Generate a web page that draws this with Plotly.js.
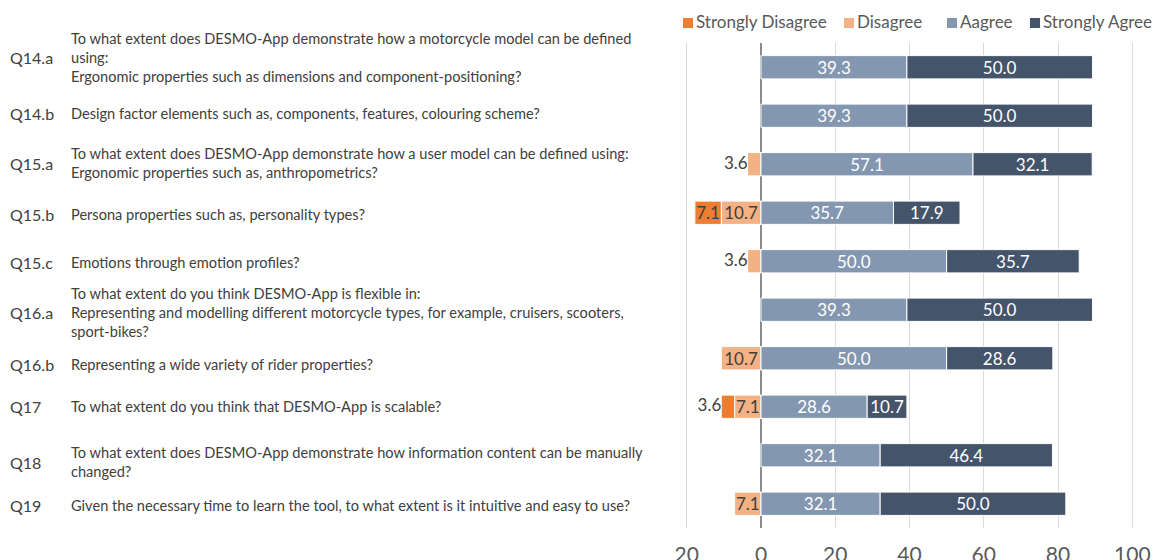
<!DOCTYPE html>
<html>
<head>
<meta charset="utf-8">
<script src="https://cdn.plot.ly/plotly-3.0.1.min.js"></script>
<style>html,body{margin:0;padding:0;background:#fff;}#chart{width:1156px;height:560px;}</style>
</head>
<body>
<div id="chart"></div>
<script>
// ---- data ----
const codes = ["Q14.a","Q14.b","Q15.a","Q15.b","Q15.c","Q16.a","Q16.b","Q17","Q18","Q19"];
const questions = [
  "To what extent does DESMO-App demonstrate how a motorcycle model can be defined<br>using:<br>Ergonomic properties such as dimensions and component-positioning?",
  "Design factor elements such as, components, features, colouring scheme?",
  "To what extent does DESMO-App demonstrate how a user model can be defined using:<br>Ergonomic properties such as, anthropometrics?",
  "Persona properties such as, personality types?",
  "Emotions through emotion profiles?",
  "To what extent do you think DESMO-App is flexible in:<br>Representing and modelling different motorcycle types, for example, cruisers, scooters,<br>sport-bikes?",
  "Representing a wide variety of rider properties?",
  "To what extent do you think that DESMO-App is scalable?",
  "To what extent does DESMO-App demonstrate how information content can be manually<br>changed?",
  "Given the necessary time to learn the tool, to what extent is it intuitive and easy to use?"
];
const seriesNames = ["Strongly Disagree","Disagree","Aagree","Strongly Agree"];
const stronglyDisagree = [0, 0, 0, 7.1, 0, 0, 0, 3.6, 0, 0];
const disagree         = [0, 0, 3.6, 10.7, 3.6, 0, 10.7, 7.1, 0, 7.1];
const agree            = [39.3, 39.3, 57.1, 35.7, 50.0, 39.3, 50.0, 28.6, 32.1, 32.1];
const stronglyAgree    = [50.0, 50.0, 32.1, 17.9, 35.7, 50.0, 28.6, 10.7, 46.4, 50.0];
const tickVals = [-20, 0, 20, 40, 60, 80, 100];
const tickText = ["20","0","20","40","60","80","100"];

// ---- styling ----
const seriesColors = ["#ED7D31", "#F4B183", "#8497B0", "#44546A"];
const FONT = "Lato, 'Open Sans', sans-serif";
const darkText = "#404040";
const greyText = "#595959";
const minInside = 5;
// vertical nudges (px) of the left-hand question table relative to bar rows
const labelNudge = [-10, -2, -1, 2, 1, 3, 6, 0, 7, 2];

const fmt = v => v.toFixed(1);
const neg = arr => arr.map(v => v ? -v : null);
const insideText = arr => arr.map(v => (v && v >= minInside) ? fmt(v) : "");

function barTrace(name, x, text, color, txtColor) {
  return {
    type: "bar", orientation: "h", name: name, y: codes, x: x,
    text: text, textposition: "inside", insidetextanchor: "middle",
    constraintext: "none", textangle: 0,
    textfont: {family: FONT, size: 17, color: txtColor},
    marker: {color: color, line: {color: "#ffffff", width: 1}},
    showlegend: false, hoverinfo: "x+name"
  };
}

// outside labels for small negative segments
const outX = [], outY = [], outT = [];
codes.forEach((c, i) => {
  if (disagree[i] && disagree[i] < minInside) { outX.push(-disagree[i]); outY.push(c); outT.push(fmt(disagree[i])); }
  if (stronglyDisagree[i] && stronglyDisagree[i] < minInside) {
    outX.push(-(disagree[i] + stronglyDisagree[i])); outY.push(c); outT.push(fmt(stronglyDisagree[i]));
  }
});

const traces = [
  barTrace(seriesNames[1], neg(disagree), insideText(disagree), seriesColors[1], darkText),
  barTrace(seriesNames[0], neg(stronglyDisagree), insideText(stronglyDisagree), seriesColors[0], darkText),
  barTrace(seriesNames[2], agree, agree.map(fmt), seriesColors[2], "#ffffff"),
  barTrace(seriesNames[3], stronglyAgree, stronglyAgree.map(fmt), seriesColors[3], "#ffffff"),
  {type: "scatter", mode: "text", x: outX, y: outY, text: outT, textposition: "middle left",
   marker: {size: 0}, textfont: {family: FONT, size: 17, color: darkText},
   showlegend: false, hoverinfo: "skip", cliponaxis: false}
];

const W = 1156, H = 560;
const L = 683, R = 20, T = 43, B = 32;
const plotW = W - L - R, plotH = H - T - B;
const px2x = px => (px - L) / plotW;
const px2y = py => (H - B - py) / plotH;

const annotations = [];
codes.forEach((c, i) => {
  annotations.push({xref: "paper", yref: "y", x: px2x(8), y: c, xanchor: "left", yanchor: "middle",
    yshift: -labelNudge[i], text: c, showarrow: false, align: "left",
    font: {family: FONT, size: 16, color: darkText}});
  annotations.push({xref: "paper", yref: "y", x: px2x(69), y: c, xanchor: "left", yanchor: "middle",
    yshift: -labelNudge[i], text: questions[i], showarrow: false, align: "left",
    font: {family: FONT, size: 14.6, color: darkText}});
});

// custom one-line legend (top right)
const legendSquareX = [683, 844, 947, 1030];
const shapes = [];
seriesNames.forEach((n, k) => {
  const x0 = legendSquareX[k];
  shapes.push({type: "rect", xref: "paper", yref: "paper",
    x0: px2x(x0), x1: px2x(x0 + 10), y0: px2y(28), y1: px2y(18),
    fillcolor: seriesColors[k], line: {width: 0}});
  annotations.push({xref: "paper", yref: "paper", x: px2x(x0 + 11), y: px2y(22), xanchor: "left", yanchor: "middle",
    text: n, showarrow: false, font: {family: FONT, size: 17, color: greyText}});
});

const layout = {
  width: W, height: H,
  margin: {l: L, r: R, t: T, b: B},
  paper_bgcolor: "#ffffff", plot_bgcolor: "#ffffff",
  barmode: "relative", bargap: 0.52,
  font: {family: FONT, color: greyText},
  showlegend: false,
  xaxis: {range: [-21, 101], tickvals: tickVals, ticktext: tickText,
    showgrid: true, gridcolor: "#d9d9d9", gridwidth: 1,
    zeroline: true, zerolinecolor: "#8c8c8c", zerolinewidth: 1.5,
    showline: false, ticks: "", ticklabelstandoff: 12,
    tickfont: {family: FONT, size: 21, color: greyText}, fixedrange: true},
  yaxis: {type: "category", categoryorder: "array", categoryarray: codes,
    range: [9.5, -0.5], showticklabels: false, showgrid: false, zeroline: false,
    showline: false, ticks: "", fixedrange: true},
  shapes: shapes,
  annotations: annotations
};

Plotly.newPlot("chart", traces, layout, {displayModeBar: false, staticPlot: true});
</script>
</body>
</html>
